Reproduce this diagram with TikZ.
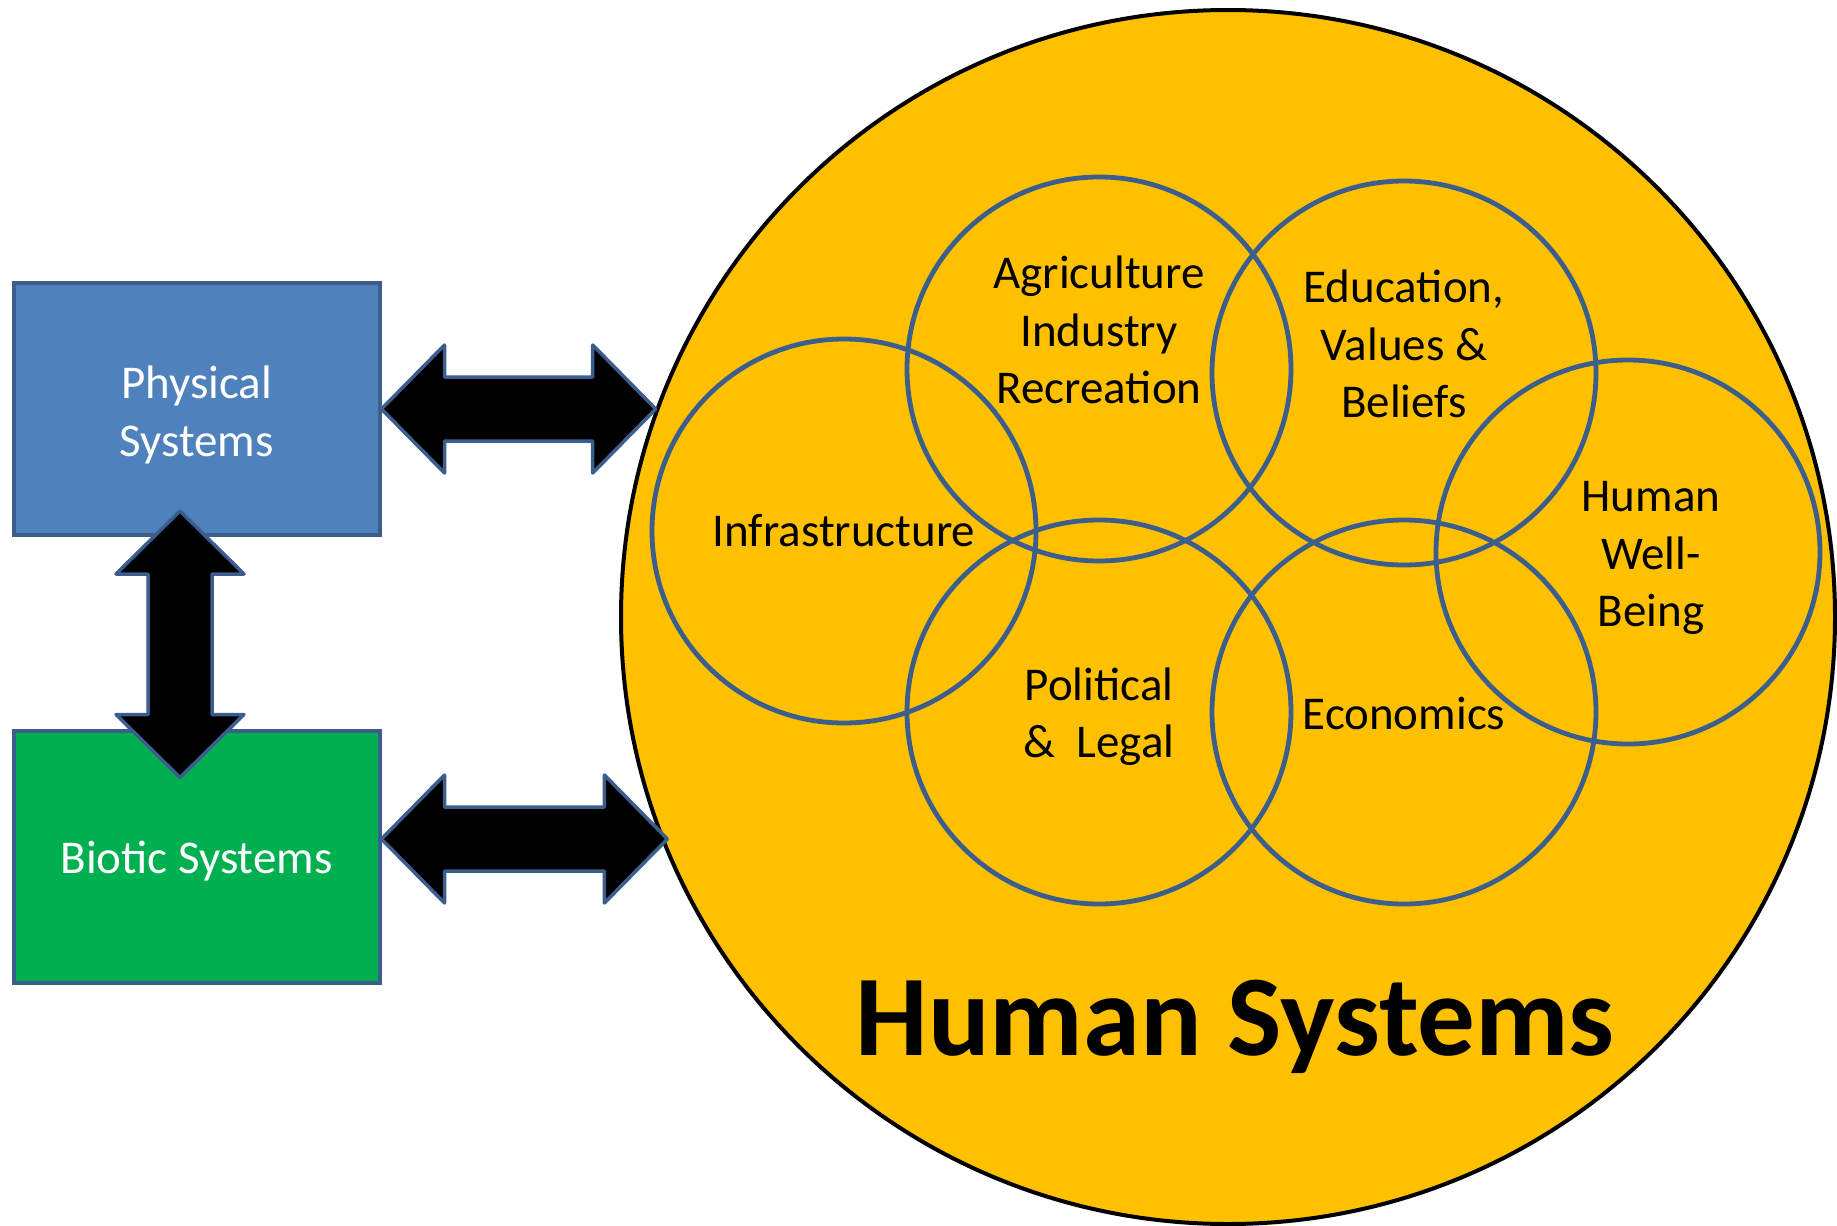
\documentclass[tikz,border=0pt]{standalone}
\usepackage{fontspec}
\setmainfont{Carlito}
\usetikzlibrary{calc}

\definecolor{sysblue}{HTML}{4F81BD}
\definecolor{sysgreen}{HTML}{00B050}
\definecolor{sysline}{HTML}{3B5E8C}
\definecolor{humanfill}{HTML}{FFC000}

\tikzset{
  sysbox/.style={draw=sysline, line width=2pt, minimum width=183pt,
    minimum height=126pt},
  ring/.style={circle, draw=sysline, line width=2.4pt, minimum size=192pt,
    inner sep=0pt},
  lbl/.style={align=center, inner sep=0pt, font=\fontsize{23.5}{28.7}\selectfont},
  title/.style={anchor=base, inner sep=0pt,
    font=\fontsize{57.5}{69}\selectfont\bfseries},
  bigarrow/.style={fill=black, draw=sysline, line width=1.75pt, line join=round},
}

% block arrows between two points
\newcommand\harrow[2]{%
  \draw[bigarrow] let \p1=(#1), \p2=(#2) in
    (\x1,\y1) -- (\x1+31.5pt,\y1+32pt) -- (\x1+31.5pt,\y1+16pt)
    -- (\x2-31.5pt,\y1+16pt) -- (\x2-31.5pt,\y1+32pt) -- (\x2,\y1)
    -- (\x2-31.5pt,\y1-32pt) -- (\x2-31.5pt,\y1-16pt)
    -- (\x1+31.5pt,\y1-16pt) -- (\x1+31.5pt,\y1-32pt) -- cycle;}
\newcommand\varrow[2]{%
  \draw[bigarrow] let \p1=(#1), \p2=(#2) in
    (\x1,\y1) -- (\x1+32pt,\y1-31.5pt) -- (\x1+16pt,\y1-31.5pt)
    -- (\x1+16pt,\y2+31.5pt) -- (\x1+32pt,\y2+31.5pt) -- (\x1,\y2)
    -- (\x1-32pt,\y2+31.5pt) -- (\x1-16pt,\y2+31.5pt)
    -- (\x1-16pt,\y1-31.5pt) -- (\x1-32pt,\y1-31.5pt) -- cycle;}

\begin{document}
\begin{tikzpicture}[x=0.5pt, y=-0.5pt]
  \useasboundingbox (0,0) rectangle (1837,1226);

  % human systems
  \node[circle, fill=humanfill, draw=black, line width=2pt,
    minimum size=607pt, inner sep=0pt] (human) at (1228,617) {};

  \node[ring] (agri) at (1099,369) {};
  \node[ring] (edu)  at (1404,373) {};
  \node[ring] (infra) at (844,531) {};
  \node[ring] (well) at (1628,552) {};
  \node[ring] (pol)  at (1099,712) {};
  \node[ring] (econ) at (1404,712) {};

  \node[lbl] (agritxt)  at (1099,330) {Agriculture\\Industry\\Recreation};
  \node[lbl] (edutxt)   at (1404,344) {Education,\\Values \&\\Beliefs};
  \node[lbl] (infratxt) at (844,531) {Infrastructure};
  \node[lbl] (welltxt)  at (1651,558) {Human\\Well-\\Being};
  \node[lbl] (poltxt)   at (1099,717) {Political\\\&~~Legal};
  \node[lbl] (econtxt)  at (1404,713) {Economics};

  \node[title] (humtitle) at (1235,1055) {Human Systems};

  % physical and biotic
  \node[sysbox, fill=sysblue] (phys) at (196.5,409) {};
  \node[sysbox, fill=sysgreen] (bio) at (196.5,856.5) {};
  \node[lbl, text=white] (phystxt) at ($(phys)+(0,6)$) {Physical\\Systems};
  \node[lbl, text=white] (biotxt) at ($(bio)+(0,5)$) {Biotic Systems};

  \coordinate (vtop) at ($(phys.south)+(-16.5,-26)$);
  \coordinate (vbot) at ($(bio.north)+(-16.5,49)$);
  \coordinate (bioport) at ($(bio.east)+(0,-17.5)$);

  \varrow{vtop}{vbot}
  \harrow{phys.east}{human.160}
  \harrow{bioport}{human.203}
\end{tikzpicture}
\end{document}
